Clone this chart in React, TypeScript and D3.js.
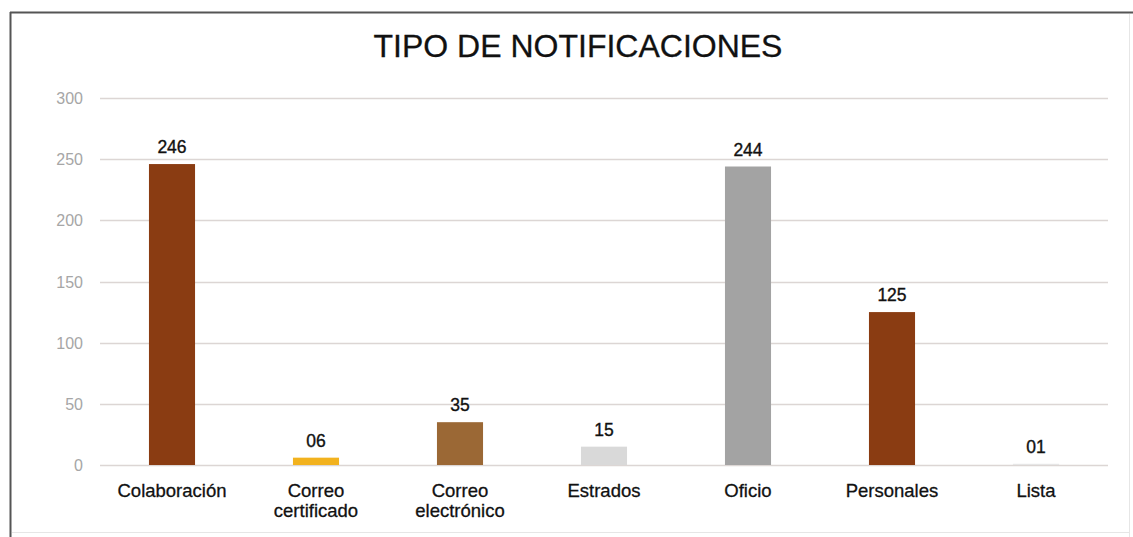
import React from "react";
import * as d3 from "d3";

const title = "TIPO DE NOTIFICACIONES";
const categories = ["Colaboración", "Correo certificado", "Correo electrónico", "Estrados", "Oficio", "Personales", "Lista"];
const values = [246, 6, 35, 15, 244, 125, 1];
const valueLabels = ["246", "06", "35", "15", "244", "125", "01"];
const barColors = ["#8a3c12", "#f2b21e", "#9b6835", "#d9d9d9", "#a3a3a3", "#8a3c12", "#e6e6e6"];
const yTicks = [0, 50, 100, 150, 200, 250, 300];

const W = 1133;
const H = 537;
const left = 100;
const right = 1108;
const top = 98;
const bottom = 465;

export default function App() {
  const x = d3.scaleBand<string>().domain(categories).range([left, right]).paddingInner(0.68).paddingOuter(0.34);
  const y = d3.scaleLinear().domain([0, 300]).range([bottom, top]);
  const font = "'Liberation Sans', Arial, sans-serif";
  return (
    <svg width={W} height={H} style={{ position: "absolute", left: 0, top: 0, background: "#fff" }} fontFamily={font}>
      <rect x={0} y={0} width={W} height={H} fill="#fff" />
      <line x1={10.5} y1={12} x2={10.5} y2={H} stroke="#555" strokeWidth={2} />
      <line x1={10} y1={12.5} x2={W} y2={12.5} stroke="#555" strokeWidth={2} />
      <line x1={1129.5} y1={14} x2={1129.5} y2={H} stroke="#e6e6e6" strokeWidth={1} />
      <line x1={12} y1={532.5} x2={1129} y2={532.5} stroke="#e6e6e6" strokeWidth={1} />
      <text x={578} y={57} textAnchor="middle" fontSize={32} fill="#111" stroke="#111" strokeWidth={0.3}>{title}</text>
      {yTicks.map((t) => (
        <g key={t}>
          <line x1={left} x2={right} y1={Math.round(y(t)) + 0.5} y2={Math.round(y(t)) + 0.5} stroke="#dcd6d4" strokeWidth={1.5} />
          <text x={83} y={y(t) + 6} textAnchor="end" fontSize={16} fill="#a6a6a6">{t}</text>
        </g>
      ))}
      {categories.map((c, i) => {
        const bx = x(c) as number;
        const bw = x.bandwidth();
        const cx = bx + bw / 2;
        const lines = c.split(" ");
        return (
          <g key={c}>
            <rect x={bx} y={y(values[i])} width={bw} height={bottom - y(values[i])} fill={barColors[i]} />
            <text x={cx} y={y(values[i]) - 11} textAnchor="middle" fontSize={17.5} fill="#111" stroke="#111" strokeWidth={0.35}>{valueLabels[i]}</text>
            {lines.map((ln, j) => (
              <text key={j} x={cx} y={497 + j * 20} textAnchor="middle" fontSize={18.5} fill="#111" stroke="#111" strokeWidth={0.3}>{ln}</text>
            ))}
          </g>
        );
      })}
    </svg>
  );
}
